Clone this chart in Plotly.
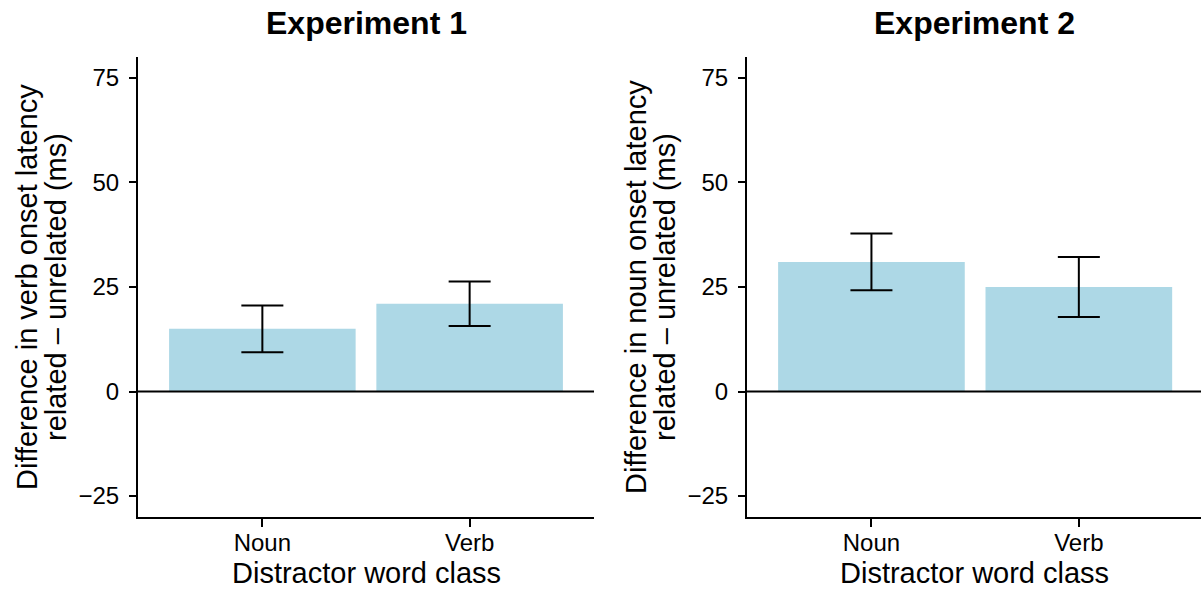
import plotly.graph_objects as go

# ---- data ----
categories = ["Noun", "Verb"]
exp1_means = [15.0, 21.0]
exp1_err = [5.6, 5.3]
exp2_means = [31.0, 25.0]
exp2_err = [6.8, 7.2]
panel_titles = ["Experiment 1", "Experiment 2"]
ytitles_line1 = ["Difference in verb onset latency", "Difference in noun onset latency"]
ytitle_line2 = "related \u2013 unrelated (ms)"
xtitle = "Distractor word class"
ytick_vals = [-25, 0, 25, 50, 75]

# ---- geometry (pixels) ----
W, H = 1201, 589
L, R, T, B = 138, 0, 57, 72
PW = W - L - R
PH = H - T - B

def px_x(p):
    return (p - L) / PW

def px_y(p):
    return (H - B - p) / PH

FONT = "Liberation Sans, Arial, Helvetica, sans-serif"
BAR = "#ADD8E6"

fig = go.Figure()
for i, (m, e) in enumerate([(exp1_means, exp1_err), (exp2_means, exp2_err)]):
    suffix = "" if i == 0 else "2"
    fig.add_trace(go.Bar(
        x=categories, y=m,
        marker=dict(color=BAR, line=dict(width=0)),
        error_y=dict(type="data", array=e, visible=True, color="black",
                     thickness=2, width=21),
        xaxis="x" + suffix, yaxis="y" + suffix,
        showlegend=False,
    ))

axis_common_y = dict(
    range=[-30, 80], tickvals=ytick_vals, showline=True, linecolor="black",
    linewidth=2, ticks="outside", ticklen=7, tickwidth=2, tickcolor="black",
    showgrid=False, zeroline=False, tickfont=dict(size=24, color="black", family=FONT),
    ticklabelstandoff=5,
)
axis_common_x = dict(
    type="category", showline=True, linecolor="black", linewidth=2,
    ticks="outside", ticklen=8, tickwidth=2, tickcolor="black", showgrid=False,
    zeroline=False, tickfont=dict(size=24, color="black", family=FONT),
    ticklabelstandoff=-5,
)

d1 = [px_x(138), px_x(594)]
d2 = [px_x(747), 1.0]
fig.update_layout(
    width=W, height=H,
    margin=dict(l=L, r=R, t=T, b=B),
    paper_bgcolor="white", plot_bgcolor="white",
    bargap=0.1,
    font=dict(family=FONT, color="black"),
    xaxis=dict(domain=d1, range=[-0.6, 1.6], anchor="y", **axis_common_x),
    yaxis=dict(domain=[0, 1], anchor="x", **axis_common_y),
    xaxis2=dict(domain=d2, range=[-0.6, 1.589], anchor="y2", **axis_common_x),
    yaxis2=dict(domain=[0, 1], anchor="x2", **axis_common_y),
)

# zero lines
for suffix in ["", "2"]:
    fig.add_shape(type="line", xref=("x" + suffix + " domain"), yref=("y" + suffix),
                  x0=0, x1=1, y0=0, y1=0, line=dict(color="black", width=2))

# titles and axis titles
yaxis_px = [138, 747]
for i, suffix in enumerate(["", "2"]):
    fig.add_annotation(text="<b>" + panel_titles[i] + "</b>", xref="x" + suffix + " domain",
                       x=0.5, yref="paper", y=px_y(23), showarrow=False,
                       font=dict(size=32, color="black", family=FONT),
                       xanchor="center", yanchor="middle")
    fig.add_annotation(text=xtitle, xref="x" + suffix + " domain", x=0.5, yref="paper",
                       y=px_y(573), showarrow=False,
                       font=dict(size=29, color="black", family=FONT),
                       xanchor="center", yanchor="middle")
    fig.add_annotation(text=ytitles_line1[i], xref="paper", x=px_x(yaxis_px[i] - 111),
                       yref="paper", y=px_y(287), textangle=-90, showarrow=False,
                       font=dict(size=29, color="black", family=FONT),
                       xanchor="center", yanchor="middle")
    fig.add_annotation(text=ytitle_line2, xref="paper", x=px_x(yaxis_px[i] - 82),
                       yref="paper", y=px_y(287), textangle=-90, showarrow=False,
                       font=dict(size=29, color="black", family=FONT),
                       xanchor="center", yanchor="middle")

fig.write_html("out.html", config={"displayModeBar": False},
               post_script="document.body.style.margin='0';document.body.style.overflow='hidden';")
